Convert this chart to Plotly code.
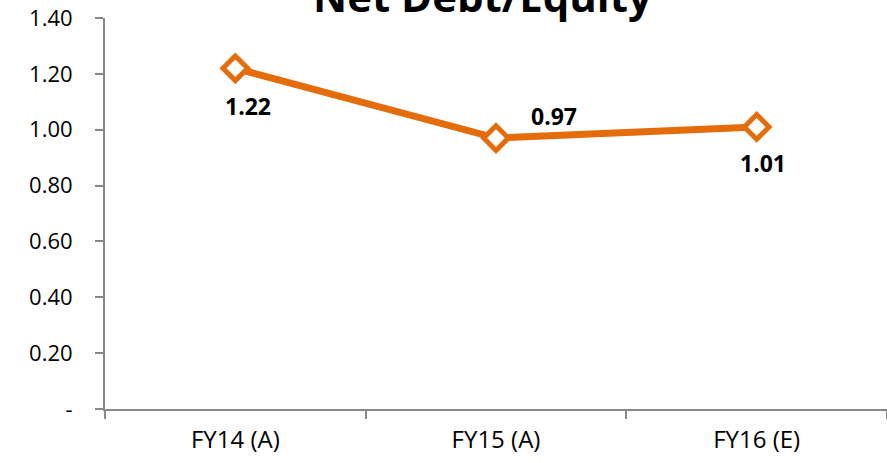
import plotly.graph_objects as go

categories = ["FY14 (A)", "FY15 (A)", "FY16 (E)"]
values = [1.22, 0.97, 1.01]
y_ticks = [0, 0.2, 0.4, 0.6, 0.8, 1.0, 1.2, 1.4]
y_tick_labels = ["-", "0.20", "0.40", "0.60", "0.80", "1.00", "1.20", "1.40"]
title_text = "Net Debt/Equity"

ORANGE = "#E46C0A"
AXIS = "#888888"
FONT = "'Open Sans', 'Noto Sans', sans-serif"

label_shifts = [(13, -38), (58, 22), (6, -36)]

fig = go.Figure()
fig.add_trace(go.Scatter(
    x=categories, y=values, mode="lines+markers",
    line=dict(color=ORANGE, width=7),
    marker=dict(symbol="diamond", size=19, color="white",
                line=dict(color=ORANGE, width=5)),
    hoverinfo="skip", showlegend=False,
))

annotations = []
for c, v, (dx, dy) in zip(categories, values, label_shifts):
    annotations.append(dict(
        x=c, y=v, xref="x", yref="y", text=f"<b>{v:.2f}</b>",
        showarrow=False, xshift=dx, yshift=dy,
        font=dict(family=FONT, size=23, color="black"),
    ))
annotations.append(dict(
    x=0.483, y=0.98, xref="paper", yref="paper", text=f"<b>{title_text}</b>",
    showarrow=False, xanchor="center", yanchor="bottom",
    font=dict(family=FONT, size=42, color="black"),
))

fig.update_layout(
    width=887, height=463,
    margin=dict(l=105, r=0, t=18, b=54),
    paper_bgcolor="white", plot_bgcolor="white",
    annotations=annotations,
    xaxis=dict(
        type="category", range=[-0.5, 2.5],
        showline=True, linecolor=AXIS, linewidth=2,
        ticks="outside", ticklen=8, tickcolor=AXIS, tickwidth=2,
        tickson="boundaries", showgrid=False, zeroline=False,
        tickfont=dict(family=FONT, size=24, color="black"),
        ticklabelstandoff=8,
    ),
    yaxis=dict(
        range=[0, 1.4], tickvals=y_ticks, ticktext=y_tick_labels,
        showline=True, linecolor=AXIS, linewidth=2,
        ticks="outside", ticklen=8, tickcolor=AXIS, tickwidth=2,
        showgrid=False, zeroline=False,
        tickfont=dict(family=FONT, size=22, color="black"),
        ticklabelstandoff=18,
    ),
)

fig.write_html("out.html", config={"displayModeBar": False},
               post_script="document.body.style.margin='0';")
